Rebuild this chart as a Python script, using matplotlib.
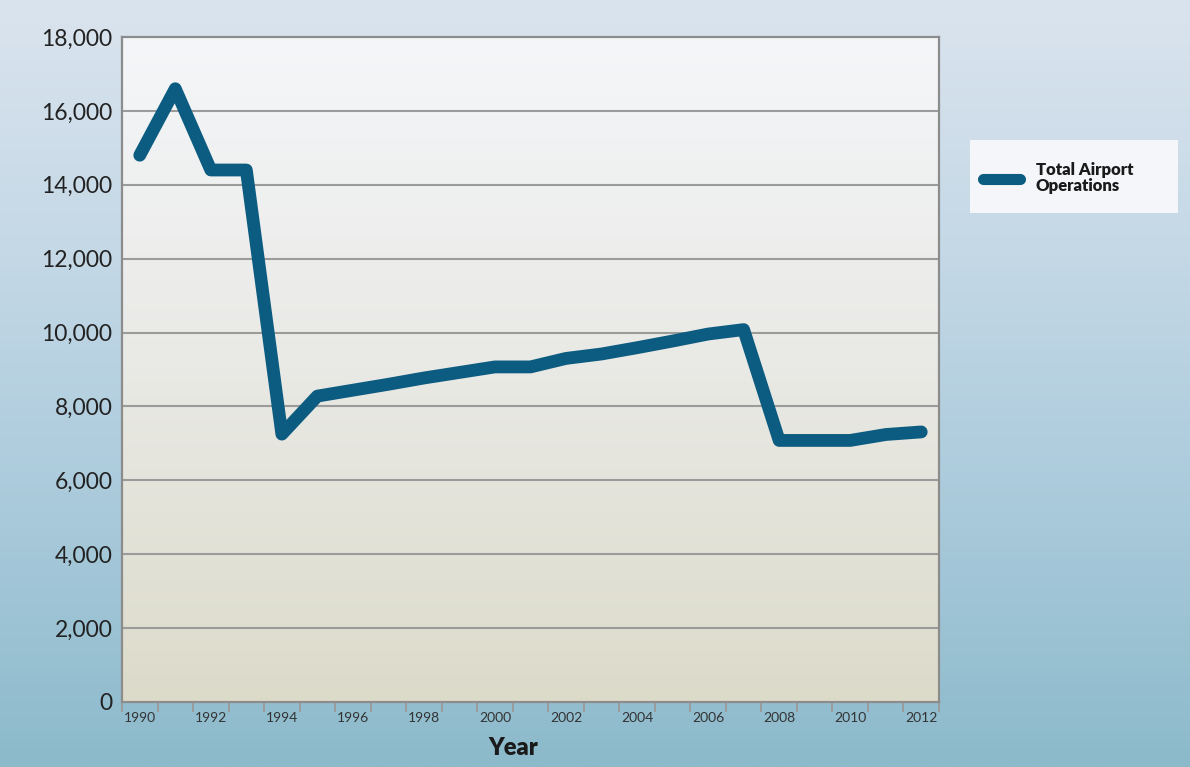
import numpy as np
import matplotlib
matplotlib.use("Agg")
import matplotlib.pyplot as plt
from matplotlib.colors import LinearSegmentedColormap
from matplotlib.patches import Rectangle

# airport operations per year
years = list(range(1990, 2013))
operations = [14800, 16600, 14400, 14400, 7250, 8280, 8440, 8600, 8770, 8920,
              9070, 9070, 9300, 9420, 9590, 9770, 9960, 10080, 7080, 7080,
              7080, 7240, 7310]
ytick_vals = list(range(0, 18001, 2000))
series_label = "Total Airport\nOperations"

line_color = "#0c5b80"
grid_color = "#9b9b9b"

fig = plt.figure(figsize=(11.9, 7.67), dpi=100)

# page background, light at top to steel blue at bottom
bg = fig.add_axes([0, 0, 1, 1], zorder=-10)
bg.axis("off")
page_cmap = LinearSegmentedColormap.from_list(
    "page", ["#dae4ee", "#c4d8e6", "#a9cadb", "#8cbacb"])
bg.imshow(np.linspace(0, 1, 256).reshape(-1, 1), cmap=page_cmap,
          aspect="auto", extent=(0, 1, 0, 1))
bg.set_xlim(0, 1)
bg.set_ylim(0, 1)

# legend panel sits between the page and the chart layers
bg.add_patch(Rectangle((970 / 1190, 1 - 213 / 767), 208 / 1190, 73 / 767,
                       transform=fig.transFigure, facecolor="#f5f6f9",
                       edgecolor="none", zorder=5))

ax = fig.add_axes([122 / 1190, 1 - 702 / 767, 817 / 1190, 665 / 767])
ax.patch.set_alpha(0)

n = len(years)
x = np.arange(n) + 0.5

# plot area fill, near white at top fading to beige
area_cmap = LinearSegmentedColormap.from_list(
    "area", ["#f4f6f9", "#e9e9e5", "#dcdbca"])
ax.imshow(np.linspace(0, 1, 256).reshape(-1, 1), cmap=area_cmap,
          aspect="auto", extent=(0, n, 0, 18000), zorder=0)

for v in ytick_vals[1:-1]:
    ax.axhline(v, color=grid_color, lw=1.5, zorder=1)

ax.plot(x, operations, color=line_color, lw=9.2, solid_joinstyle="round",
        solid_capstyle="round", zorder=3, label=series_label)

ax.set_xlim(0, n)
ax.set_ylim(0, 18000)

ax.set_yticks(ytick_vals)
ax.set_yticklabels([f"{v:,}" for v in ytick_vals], fontsize=16.5,
                   family="Lato", color="#222222")
ax.tick_params(axis="y", length=0, pad=7)

# tick marks on the bin edges, year labels in the bin centres
ax.set_xticks(np.arange(n + 1))
ax.set_xticklabels([])
ax.tick_params(axis="x", which="major", length=7, width=1.4, color=grid_color)
ax.set_xticks(x[::2], minor=True)
ax.set_xticklabels([str(y) for y in years[::2]], minor=True, fontsize=10,
                   family="Lato", color="#333333")
ax.tick_params(axis="x", which="minor", length=0, pad=7)

for s in ax.spines.values():
    s.set_color("#8c8c8c")
    s.set_linewidth(1.6)

fig.text(513 / 1190, 1 - 748 / 767, "Year", ha="center", va="center",
         fontsize=17, fontweight="heavy", family="Lato", color="#1a1a1a")

leg = ax.legend(loc="center left", bbox_to_anchor=(975 / 1190, 1 - 178 / 767),
                bbox_transform=fig.transFigure, frameon=False,
                prop={"family": "Lato", "weight": "heavy", "size": 12},
                handlelength=2.2, handletextpad=0.95, borderpad=0)
for t in leg.get_texts():
    t.set_color("#1a1a1a")
    t.set_linespacing(1.05)
leg.get_lines()[0].set_linewidth(8)

fig.savefig("out.png", dpi=100)
